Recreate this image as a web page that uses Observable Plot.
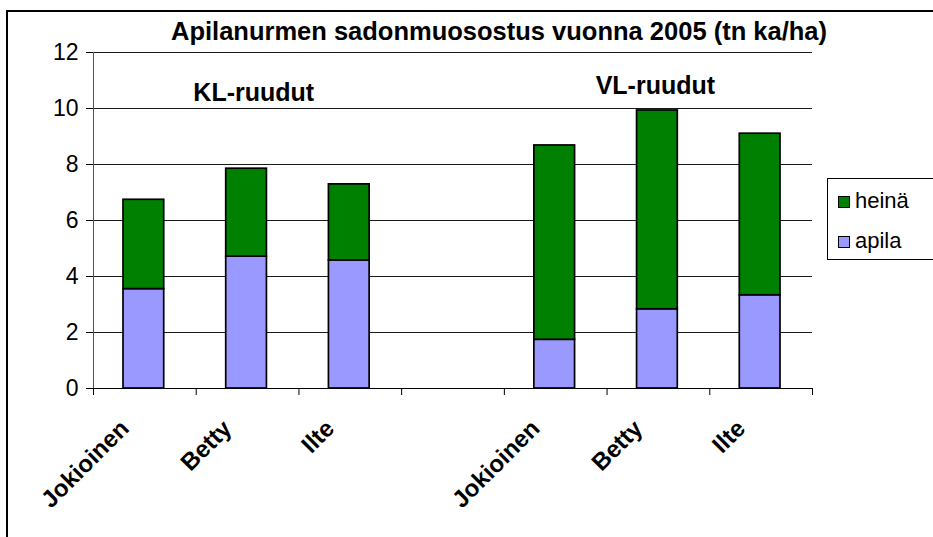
<!DOCTYPE html>
<html>
<head>
<meta charset="utf-8">
<script src="https://cdn.jsdelivr.net/npm/d3@7"></script>
<script src="https://cdn.jsdelivr.net/npm/@observablehq/plot@0.6"></script>
<style>
html, body { margin: 0; padding: 0; background: #fff; overflow: hidden; width: 933px; height: 537px; }
body { font-family: "Liberation Sans", Arial, sans-serif; }
#wrap { position: relative; width: 933px; height: 537px; overflow: hidden; }
#chart { position: absolute; left: 0; top: 0; }
#frame { position: absolute; left: 6px; top: 10px; width: 927px; height: 527px; border-left: 2px solid #000; border-top: 2px solid #000; box-sizing: border-box; pointer-events: none; }
#title { position: absolute; left: 64px; width: 870px; top: 19px; text-align: center; font-weight: bold; font-size: 25.5px; line-height: 25px; white-space: nowrap; }
#legend { position: absolute; left: 827px; top: 178px; width: 106px; height: 82px; border: 1px solid #000; border-right: none; box-sizing: border-box; background: #fff; }
.item { position: absolute; left: 10px; font-size: 22px; line-height: 22px; white-space: nowrap; }
.sw { display: inline-block; width: 10px; height: 10px; border: 1px solid #000; margin-right: 5px; vertical-align: 0px; }
</style>
</head>
<body>
<div id="wrap">
  <div id="chart"></div>
  <div id="frame"></div>
  <div id="title"></div>
  <div id="legend"></div>
</div>
<script>
// ---- data ----
const title = "Apilanurmen sadonmuosostus vuonna 2005 (tn ka/ha)";
const categories = ["Jokioinen", "Betty", "Ilte", "", "Jokioinen", "Betty", "Ilte"];
const seriesNames = ["heinä", "apila"];
const apila = [3.55, 4.71, 4.57, null, 1.74, 2.83, 3.33];
const heina = [3.19, 3.14, 2.72, null, 6.94, 7.10, 5.77];
const seriesColors = ["#008000", "#9999FF"];
const yTicks = [0, 2, 4, 6, 8, 10, 12];
const groupLabels = ["KL-ruudut", "VL-ruudut"];
const groupLabelX = [1.56, 5.47];
const groupLabelY = [10.57, 10.82];

// ---- build rows (stacked: apila at bottom, heinä on top) ----
const rows = [];
categories.forEach((c, i) => {
  if (apila[i] == null) return;
  rows.push({slot: i, series: "apila", y1: 0, y2: apila[i]});
  rows.push({slot: i, series: "heinä", y1: apila[i], y2: apila[i] + heina[i]});
});
const boundaryTicks = d3.range(categories.length + 1);
const labelTicks = categories.map((c, i) => i + 0.5).filter((d, i) => categories[i] !== "");
const annotations = groupLabels.map((t, i) => ({t, x: groupLabelX[i], y: groupLabelY[i]}));

const font = "'Liberation Sans', Arial, sans-serif";
const chart = Plot.plot({
  width: 933,
  height: 537,
  marginLeft: 93,
  marginRight: 121,
  marginTop: 52,
  marginBottom: 149,
  style: {fontFamily: font, background: "transparent", color: "#000"},
  x: {domain: [0, categories.length], axis: null},
  y: {domain: [0, 12], axis: null},
  color: {domain: seriesNames, range: seriesColors},
  marks: [
    Plot.gridY(yTicks, {stroke: "#000", strokeOpacity: 0.9, strokeWidth: 1}),
    Plot.rectY(rows, {x1: "slot", x2: d => d.slot + 1, y1: "y1", y2: "y2", fill: "series", stroke: "#000", strokeWidth: 1.7, insetLeft: 30, insetRight: 32}),
    Plot.ruleX([0], {stroke: "#555", strokeWidth: 1}),
    Plot.ruleY([0], {stroke: "#000", strokeWidth: 1}),
    Plot.axisY(yTicks, {tickSize: 7, tickPadding: 8, fontSize: 23, stroke: "#000"}),
    Plot.axisX(boundaryTicks, {tickSize: 7, tickFormat: () => "", stroke: "#000"}),
    Plot.axisX(labelTicks, {tickSize: 0, tickPadding: 36, tickRotate: -45, dx: -20, fontSize: 24, fontWeight: "bold", tickFormat: d => categories[Math.floor(d)]}),
    Plot.text(annotations, {x: "x", y: "y", text: "t", fontSize: 25, fontWeight: "bold", fill: "#000"})
  ]
});
document.getElementById("chart").appendChild(chart);

document.getElementById("title").textContent = title;
const legend = document.getElementById("legend");
seriesNames.forEach((s, i) => {
  const item = document.createElement("div");
  item.className = "item";
  item.style.top = (11 + i * 40) + "px";
  const sw = document.createElement("span");
  sw.className = "sw";
  sw.style.background = seriesColors[i];
  item.appendChild(sw);
  item.appendChild(document.createTextNode(s));
  legend.appendChild(item);
});
</script>
</body>
</html>
